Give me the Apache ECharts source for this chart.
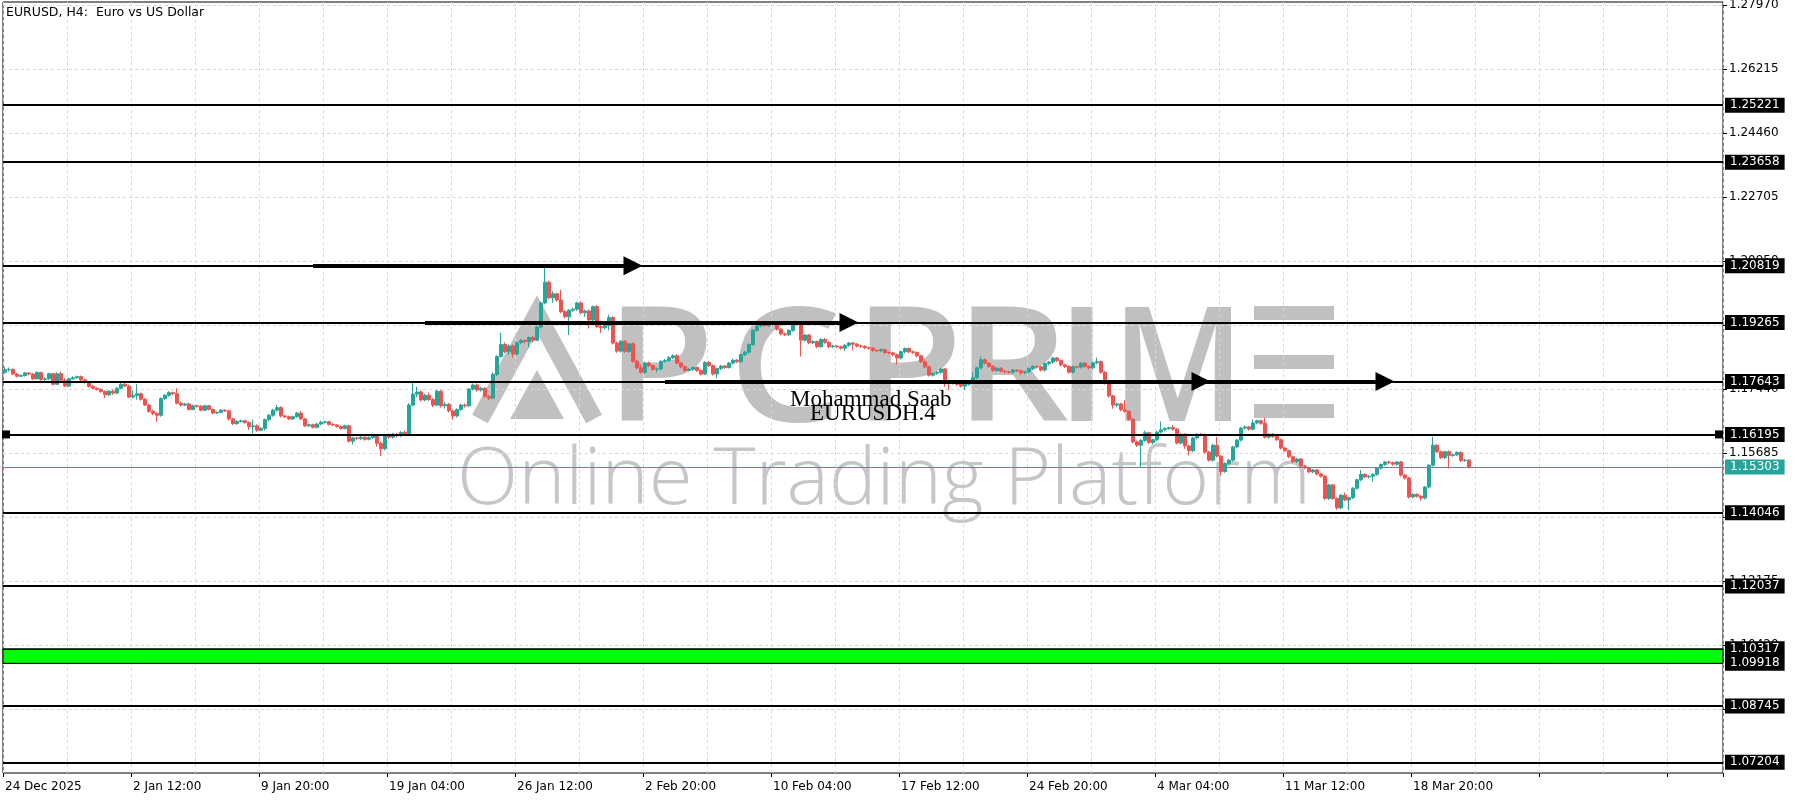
<!DOCTYPE html>
<html><head><meta charset="utf-8">
<script src="https://cdn.jsdelivr.net/npm/echarts@6/dist/echarts.min.js"></script>
<style>html,body{margin:0;padding:0;background:#fff}#c{width:1800px;height:800px}</style>
</head><body><div id="c"></div>
<script>
// ---------- data ----------
const chartTitle = 'EURUSD, H4:  Euro vs US Dollar';
const dateLabels = ['24 Dec 2025','2 Jan 12:00','9 Jan 20:00','19 Jan 04:00','26 Jan 12:00','2 Feb 20:00','10 Feb 04:00','17 Feb 12:00','24 Feb 20:00','4 Mar 04:00','11 Mar 12:00','18 Mar 20:00'];
const labelStep = 32;     // bars between date labels
const gridStep = 16;      // bars between vertical grid lines
const totalSlots = 430;   // bar slots across the chart (incl. right shift)
const priceTicks = [1.27970,1.26215,1.24460,1.22705,1.20950,1.19195,1.17440,1.15685,1.13930,1.12175,1.10420,1.08665];
const levels = [1.25221,1.23658,1.20819,1.19265,1.17643,1.16195,1.14046,1.12037,1.08745,1.07204];
const zone = [1.10317,1.09918];
const lastPrice = 1.15303;
const handleLevel = 1.16195;
// arrows: [startBar, endBar, price]
const arrows = [[77,157,1.20819],[105,211,1.19265],[165,299,1.17643],[214,345,1.17643]];
const yMin = 1.06911, yMax = 1.28052;
// candles: [open, close, low, high]
const ohlc = [
[1.1790,1.1797,1.1786,1.1805],[1.1797,1.1798,1.1792,1.1803],[1.1798,1.1785,1.1782,1.1800],[1.1785,1.1779,1.1776,1.1788],
[1.1779,1.1781,1.1776,1.1784],[1.1781,1.1788,1.1778,1.1791],[1.1788,1.1785,1.1782,1.1790],[1.1785,1.1772,1.1769,1.1788],
[1.1772,1.1789,1.1770,1.1793],[1.1789,1.1770,1.1767,1.1791],[1.1770,1.1772,1.1766,1.1776],[1.1772,1.1786,1.1769,1.1789],
[1.1786,1.1757,1.1754,1.1788],[1.1757,1.1786,1.1755,1.1790],[1.1786,1.1768,1.1764,1.1791],[1.1768,1.1752,1.1749,1.1774],
[1.1752,1.1772,1.1750,1.1775],[1.1772,1.1775,1.1769,1.1779],[1.1775,1.1778,1.1772,1.1781],[1.1778,1.1769,1.1766,1.1781],
[1.1769,1.1762,1.1759,1.1772],[1.1762,1.1751,1.1748,1.1765],[1.1751,1.1746,1.1743,1.1755],[1.1746,1.1743,1.1740,1.1749],
[1.1743,1.1737,1.1734,1.1746],[1.1737,1.1728,1.1719,1.1740],[1.1728,1.1738,1.1725,1.1741],[1.1738,1.1733,1.1728,1.1743],
[1.1733,1.1746,1.1730,1.1749],[1.1746,1.1757,1.1743,1.1762],[1.1757,1.1752,1.1749,1.1762],[1.1752,1.1722,1.1719,1.1756],
[1.1722,1.1726,1.1718,1.1741],[1.1726,1.1731,1.1715,1.1757],[1.1731,1.1716,1.1712,1.1734],[1.1716,1.1700,1.1697,1.1719],
[1.1700,1.1683,1.1679,1.1703],[1.1683,1.1677,1.1672,1.1687],[1.1677,1.1672,1.1654,1.1680],[1.1672,1.1718,1.1668,1.1721],
[1.1718,1.1727,1.1714,1.1730],[1.1727,1.1734,1.1723,1.1738],[1.1734,1.1731,1.1727,1.1737],[1.1731,1.1705,1.1702,1.1746],
[1.1705,1.1700,1.1696,1.1709],[1.1700,1.1703,1.1697,1.1706],[1.1703,1.1688,1.1685,1.1706],[1.1688,1.1698,1.1686,1.1701],
[1.1698,1.1697,1.1693,1.1701],[1.1697,1.1686,1.1683,1.1700],[1.1686,1.1698,1.1684,1.1701],[1.1698,1.1688,1.1685,1.1700],
[1.1688,1.1678,1.1675,1.1690],[1.1678,1.1680,1.1676,1.1683],[1.1680,1.1686,1.1677,1.1689],[1.1686,1.1684,1.1681,1.1688],
[1.1684,1.1662,1.1658,1.1687],[1.1662,1.1649,1.1645,1.1665],[1.1649,1.1655,1.1646,1.1659],[1.1655,1.1657,1.1652,1.1660],
[1.1657,1.1652,1.1649,1.1660],[1.1652,1.1641,1.1632,1.1655],[1.1641,1.1643,1.1622,1.1660],[1.1643,1.1631,1.1627,1.1647],
[1.1631,1.1636,1.1628,1.1639],[1.1636,1.1660,1.1630,1.1663],[1.1660,1.1672,1.1656,1.1676],[1.1672,1.1686,1.1668,1.1690],
[1.1686,1.1693,1.1682,1.1701],[1.1693,1.1670,1.1666,1.1697],[1.1670,1.1668,1.1664,1.1673],[1.1668,1.1662,1.1659,1.1671],
[1.1662,1.1668,1.1659,1.1671],[1.1668,1.1678,1.1665,1.1681],[1.1678,1.1662,1.1659,1.1684],[1.1662,1.1643,1.1640,1.1665],
[1.1643,1.1646,1.1640,1.1649],[1.1646,1.1639,1.1636,1.1649],[1.1639,1.1648,1.1636,1.1651],[1.1648,1.1653,1.1645,1.1657],
[1.1653,1.1654,1.1649,1.1657],[1.1654,1.1647,1.1644,1.1657],[1.1647,1.1645,1.1642,1.1650],[1.1645,1.1641,1.1638,1.1648],
[1.1641,1.1636,1.1633,1.1644],[1.1636,1.1643,1.1633,1.1646],[1.1643,1.1601,1.1597,1.1646],[1.1601,1.1610,1.1592,1.1613],
[1.1610,1.1608,1.1604,1.1613],[1.1608,1.1612,1.1604,1.1615],[1.1612,1.1606,1.1602,1.1615],[1.1606,1.1611,1.1603,1.1614],
[1.1611,1.1616,1.1607,1.1619],[1.1616,1.1595,1.1586,1.1619],[1.1595,1.1580,1.1560,1.1600],[1.1580,1.1618,1.1576,1.1621],
[1.1618,1.1612,1.1607,1.1622],[1.1612,1.1620,1.1608,1.1624],[1.1620,1.1616,1.1611,1.1624],[1.1616,1.1625,1.1612,1.1628],
[1.1625,1.1622,1.1617,1.1630],[1.1622,1.1700,1.1619,1.1705],[1.1700,1.1730,1.1696,1.1764],[1.1730,1.1736,1.1722,1.1750],
[1.1736,1.1714,1.1710,1.1740],[1.1714,1.1727,1.1710,1.1731],[1.1727,1.1715,1.1711,1.1734],[1.1715,1.1700,1.1694,1.1719],
[1.1700,1.1738,1.1697,1.1742],[1.1738,1.1698,1.1693,1.1742],[1.1698,1.1702,1.1690,1.1708],[1.1702,1.1684,1.1680,1.1706],
[1.1684,1.1670,1.1660,1.1688],[1.1670,1.1688,1.1666,1.1691],[1.1688,1.1700,1.1684,1.1704],[1.1700,1.1698,1.1693,1.1704],
[1.1698,1.1744,1.1695,1.1747],[1.1744,1.1755,1.1740,1.1759],[1.1755,1.1741,1.1737,1.1759],[1.1741,1.1746,1.1737,1.1750],
[1.1746,1.1724,1.1720,1.1749],[1.1724,1.1719,1.1714,1.1728],[1.1719,1.1784,1.1716,1.1790],[1.1784,1.1833,1.1780,1.1836],
[1.1833,1.1866,1.1830,1.1898],[1.1866,1.1846,1.1842,1.1872],[1.1846,1.1862,1.1838,1.1866],[1.1862,1.1840,1.1830,1.1866],
[1.1840,1.1871,1.1836,1.1874],[1.1871,1.1877,1.1867,1.1881],[1.1877,1.1874,1.1869,1.1880],[1.1874,1.1885,1.1858,1.1888],
[1.1885,1.1878,1.1872,1.1890],[1.1878,1.1914,1.1875,1.1917],[1.1914,1.1980,1.1910,1.1984],[1.1980,1.2037,1.1976,1.2076],
[1.2037,1.1994,1.1990,1.2041],[1.1994,1.2005,1.1980,1.2012],[1.2005,1.1988,1.1984,1.2008],[1.1988,1.1956,1.1952,1.2016],
[1.1956,1.1942,1.1938,1.1960],[1.1942,1.1960,1.1892,1.1963],[1.1960,1.1963,1.1956,1.1967],[1.1963,1.1980,1.1958,1.1983],
[1.1980,1.1953,1.1949,1.1985],[1.1953,1.1958,1.1942,1.1962],[1.1958,1.1933,1.1910,1.1962],[1.1933,1.1970,1.1930,1.1973],
[1.1970,1.1915,1.1911,1.1974],[1.1915,1.1912,1.1898,1.1922],[1.1912,1.1918,1.1908,1.1921],[1.1918,1.1940,1.1905,1.1948],
[1.1940,1.1870,1.1866,1.1944],[1.1870,1.1848,1.1843,1.1874],[1.1848,1.1875,1.1844,1.1878],[1.1875,1.1847,1.1843,1.1878],
[1.1847,1.1868,1.1843,1.1871],[1.1868,1.1820,1.1816,1.1872],[1.1820,1.1802,1.1798,1.1824],[1.1802,1.1790,1.1786,1.1811],
[1.1790,1.1815,1.1785,1.1819],[1.1815,1.1808,1.1804,1.1819],[1.1808,1.1798,1.1794,1.1811],[1.1798,1.1799,1.1790,1.1803],
[1.1799,1.1820,1.1796,1.1823],[1.1820,1.1822,1.1816,1.1826],[1.1822,1.1830,1.1818,1.1834],[1.1830,1.1835,1.1826,1.1839],
[1.1835,1.1815,1.1812,1.1840],[1.1815,1.1805,1.1801,1.1819],[1.1805,1.1795,1.1791,1.1809],[1.1795,1.1798,1.1792,1.1801],
[1.1798,1.1803,1.1794,1.1806],[1.1803,1.1795,1.1791,1.1806],[1.1795,1.1785,1.1781,1.1798],[1.1785,1.1817,1.1782,1.1820],
[1.1817,1.1808,1.1804,1.1821],[1.1808,1.1785,1.1781,1.1811],[1.1785,1.1800,1.1773,1.1803],[1.1800,1.1807,1.1796,1.1810],
[1.1807,1.1803,1.1799,1.1810],[1.1803,1.1815,1.1800,1.1818],[1.1815,1.1823,1.1811,1.1827],[1.1823,1.1819,1.1815,1.1826],
[1.1819,1.1838,1.1816,1.1841],[1.1838,1.1845,1.1834,1.1849],[1.1845,1.1866,1.1841,1.1869],[1.1866,1.1905,1.1862,1.1908],
[1.1905,1.1917,1.1901,1.1921],[1.1917,1.1921,1.1913,1.1925],[1.1921,1.1918,1.1914,1.1924],[1.1918,1.1924,1.1914,1.1927],
[1.1924,1.1921,1.1917,1.1926],[1.1921,1.1908,1.1904,1.1924],[1.1908,1.1895,1.1891,1.1911],[1.1895,1.1893,1.1889,1.1899],
[1.1893,1.1905,1.1889,1.1908],[1.1905,1.1925,1.1901,1.1929],[1.1925,1.1922,1.1918,1.1928],[1.1922,1.1878,1.1833,1.1925],
[1.1878,1.1892,1.1874,1.1895],[1.1892,1.1871,1.1867,1.1895],[1.1871,1.1874,1.1867,1.1878],[1.1874,1.1860,1.1856,1.1877],
[1.1860,1.1880,1.1857,1.1883],[1.1880,1.1872,1.1868,1.1884],[1.1872,1.1860,1.1856,1.1875],[1.1860,1.1862,1.1856,1.1865],
[1.1862,1.1860,1.1856,1.1864],[1.1860,1.1856,1.1852,1.1863],[1.1856,1.1864,1.1848,1.1867],[1.1864,1.1870,1.1860,1.1873],
[1.1870,1.1867,1.1850,1.1873],[1.1867,1.1862,1.1858,1.1870],[1.1862,1.1861,1.1857,1.1865],[1.1861,1.1857,1.1853,1.1864],
[1.1857,1.1856,1.1852,1.1860],[1.1856,1.1850,1.1846,1.1859],[1.1850,1.1849,1.1845,1.1853],[1.1849,1.1852,1.1845,1.1855],
[1.1852,1.1844,1.1840,1.1855],[1.1844,1.1843,1.1839,1.1847],[1.1843,1.1838,1.1834,1.1846],[1.1838,1.1829,1.1812,1.1841],
[1.1829,1.1846,1.1825,1.1849],[1.1846,1.1855,1.1842,1.1858],[1.1855,1.1846,1.1842,1.1858],[1.1846,1.1844,1.1840,1.1849],
[1.1844,1.1835,1.1831,1.1847],[1.1835,1.1819,1.1815,1.1838],[1.1819,1.1805,1.1801,1.1822],[1.1805,1.1782,1.1778,1.1808],
[1.1782,1.1787,1.1778,1.1790],[1.1787,1.1790,1.1783,1.1793],[1.1790,1.1799,1.1786,1.1802],[1.1799,1.1764,1.1750,1.1802],
[1.1764,1.1760,1.1741,1.1767],[1.1760,1.1762,1.1756,1.1765],[1.1762,1.1757,1.1753,1.1765],[1.1757,1.1752,1.1748,1.1760],
[1.1752,1.1757,1.1741,1.1760],[1.1757,1.1765,1.1753,1.1768],[1.1765,1.1775,1.1761,1.1790],[1.1775,1.1802,1.1771,1.1805],
[1.1802,1.1824,1.1798,1.1833],[1.1824,1.1815,1.1811,1.1828],[1.1815,1.1806,1.1802,1.1818],[1.1806,1.1795,1.1791,1.1809],
[1.1795,1.1801,1.1791,1.1804],[1.1801,1.1793,1.1789,1.1804],[1.1793,1.1791,1.1787,1.1796],[1.1791,1.1790,1.1786,1.1794],
[1.1790,1.1796,1.1786,1.1799],[1.1796,1.1794,1.1790,1.1798],[1.1794,1.1789,1.1782,1.1797],[1.1789,1.1791,1.1785,1.1794],
[1.1791,1.1800,1.1787,1.1803],[1.1800,1.1806,1.1796,1.1809],[1.1806,1.1805,1.1801,1.1809],[1.1805,1.1796,1.1792,1.1808],
[1.1796,1.1814,1.1792,1.1817],[1.1814,1.1818,1.1810,1.1821],[1.1818,1.1829,1.1814,1.1832],[1.1829,1.1822,1.1818,1.1832],
[1.1822,1.1810,1.1806,1.1825],[1.1810,1.1806,1.1802,1.1813],[1.1806,1.1790,1.1786,1.1809],[1.1790,1.1805,1.1786,1.1808],
[1.1805,1.1804,1.1800,1.1808],[1.1804,1.1815,1.1800,1.1818],[1.1815,1.1806,1.1802,1.1818],[1.1806,1.1802,1.1798,1.1809],
[1.1802,1.1816,1.1798,1.1819],[1.1816,1.1819,1.1812,1.1830],[1.1819,1.1790,1.1786,1.1822],[1.1790,1.1760,1.1756,1.1793],
[1.1760,1.1725,1.1721,1.1763],[1.1725,1.1700,1.1690,1.1728],[1.1700,1.1703,1.1695,1.1707],[1.1703,1.1687,1.1683,1.1706],
[1.1687,1.1683,1.1679,1.1714],[1.1683,1.1661,1.1657,1.1686],[1.1661,1.1599,1.1595,1.1664],[1.1599,1.1590,1.1585,1.1603],
[1.1590,1.1603,1.1530,1.1606],[1.1603,1.1624,1.1599,1.1630],[1.1624,1.1597,1.1593,1.1627],[1.1597,1.1605,1.1593,1.1608],
[1.1605,1.1626,1.1601,1.1629],[1.1626,1.1632,1.1622,1.1655],[1.1632,1.1636,1.1628,1.1639],[1.1636,1.1638,1.1632,1.1641],
[1.1638,1.1634,1.1630,1.1645],[1.1634,1.1596,1.1592,1.1637],[1.1596,1.1620,1.1592,1.1623],[1.1620,1.1588,1.1580,1.1623],
[1.1588,1.1575,1.1562,1.1591],[1.1575,1.1610,1.1571,1.1613],[1.1610,1.1620,1.1606,1.1623],[1.1620,1.1619,1.1615,1.1623],
[1.1619,1.1571,1.1567,1.1622],[1.1571,1.1549,1.1545,1.1574],[1.1549,1.1590,1.1545,1.1593],[1.1590,1.1560,1.1556,1.1613],
[1.1560,1.1518,1.1508,1.1563],[1.1518,1.1540,1.1514,1.1543],[1.1540,1.1549,1.1536,1.1552],[1.1549,1.1585,1.1545,1.1588],
[1.1585,1.1604,1.1581,1.1607],[1.1604,1.1637,1.1600,1.1640],[1.1637,1.1640,1.1633,1.1644],[1.1640,1.1634,1.1630,1.1643],
[1.1634,1.1651,1.1630,1.1660],[1.1651,1.1657,1.1647,1.1660],[1.1657,1.1650,1.1646,1.1660],[1.1650,1.1612,1.1608,1.1666],
[1.1612,1.1620,1.1608,1.1623],[1.1620,1.1614,1.1610,1.1623],[1.1614,1.1605,1.1601,1.1617],[1.1605,1.1582,1.1578,1.1608],
[1.1582,1.1575,1.1571,1.1585],[1.1575,1.1558,1.1554,1.1578],[1.1558,1.1545,1.1541,1.1561],[1.1545,1.1552,1.1541,1.1555],
[1.1552,1.1533,1.1529,1.1555],[1.1533,1.1528,1.1524,1.1536],[1.1528,1.1517,1.1513,1.1531],[1.1517,1.1522,1.1513,1.1525],
[1.1522,1.1511,1.1507,1.1525],[1.1511,1.1505,1.1501,1.1514],[1.1505,1.1444,1.1440,1.1508],[1.1444,1.1481,1.1440,1.1484],
[1.1481,1.1444,1.1440,1.1484],[1.1444,1.1418,1.1413,1.1447],[1.1418,1.1453,1.1414,1.1456],[1.1453,1.1440,1.1436,1.1460],
[1.1440,1.1446,1.1412,1.1449],[1.1446,1.1472,1.1442,1.1475],[1.1472,1.1495,1.1468,1.1498],[1.1495,1.1510,1.1491,1.1522],
[1.1510,1.1503,1.1499,1.1513],[1.1503,1.1505,1.1499,1.1508],[1.1505,1.1510,1.1490,1.1513],[1.1510,1.1527,1.1506,1.1530],
[1.1527,1.1537,1.1523,1.1540],[1.1537,1.1544,1.1533,1.1547],[1.1544,1.1542,1.1538,1.1547],[1.1542,1.1538,1.1534,1.1545],
[1.1538,1.1544,1.1534,1.1547],[1.1544,1.1508,1.1504,1.1547],[1.1508,1.1500,1.1496,1.1511],[1.1500,1.1448,1.1444,1.1503],
[1.1448,1.1455,1.1444,1.1458],[1.1455,1.1450,1.1446,1.1458],[1.1450,1.1445,1.1438,1.1453],[1.1445,1.1475,1.1441,1.1478],
[1.1475,1.1535,1.1471,1.1538],[1.1535,1.1590,1.1531,1.1613],[1.1590,1.1572,1.1568,1.1593],[1.1572,1.1556,1.1552,1.1575],
[1.1556,1.1572,1.1552,1.1575],[1.1572,1.1562,1.1526,1.1575],[1.1562,1.1564,1.1558,1.1567],[1.1564,1.1570,1.1560,1.1573],
[1.1570,1.1548,1.1544,1.1573],[1.1548,1.1549,1.1544,1.1553],[1.1549,1.15303,1.1526,1.1552]
];
// watermark
const logoLetters = ['P','C','P','R','I','M'];
const logoCenters = [660,785,908,1012,1082,1178];
const logoScale = [1.12,1.12,1.12,1.12,1.12,0.9];
const tagline = 'Online Trading Platform';
const authorText = 'Mohammad Saab';
const symbolText = 'EURUSDH.4';

// ---------- chart ----------
const FONT = '"DejaVu Sans", Verdana, sans-serif';
const BULL = '#26a69a', BEAR = '#ef5350';
const WM = '#c0c0c0';
const categories = [];
for (let i = 0; i < totalSlots; i++) {
  const k = i / labelStep;
  categories.push(i % labelStep === 0 && k < dateLabels.length ? dateLabels[k] : '');
}
const fmt = v => Number(v).toFixed(5);
const chart = echarts.init(document.getElementById('c'), null, {renderer: 'canvas', width: 1800, height: 800});

const graphics = [];
// stylised "A" (no crossbar, inner triangle)
graphics.push({type: 'polyline', z: 0, silent: true,
  shape: {points: [[480, 419], [537, 314], [594, 419]]},
  style: {stroke: WM, lineWidth: 18, lineJoin: 'miter', fill: null}});
graphics.push({type: 'polygon', z: 0, silent: true,
  shape: {points: [[510, 419], [537, 370], [564, 419]]}, style: {fill: WM}});
logoLetters.forEach((ch, i) => {
  graphics.push({type: 'text', z: 0, x: logoCenters[i], y: 375, scaleX: logoScale[i], silent: true,
    style: {text: ch, fill: WM, font: '600 160px "Open Sans", sans-serif', align: 'center', verticalAlign: 'middle'}});
});
// stylised "E" (three bars)
[306, 355, 404].forEach(y => graphics.push({type: 'rect', z: 0, silent: true,
  shape: {x: 1254, y: y, width: 80, height: 14}, style: {fill: WM}}));
graphics.push({type: 'text', z: 0, x: 884, y: 481, silent: true,
  style: {text: tagline, fill: '#c6c6c6', font: '300 80px "Open Sans", sans-serif', align: 'center', verticalAlign: 'middle'}});
graphics.push({type: 'text', z: 50, x: 6, y: 13, silent: true,
  style: {text: chartTitle, fill: '#000', font: '12.5px ' + FONT, align: 'left', verticalAlign: 'middle'}});
graphics.push({type: 'text', z: 50, x: 790, y: 400, silent: true,
  style: {text: authorText, fill: '#000', font: '23px "Liberation Serif", "Times New Roman", serif', align: 'left', verticalAlign: 'middle'}});
graphics.push({type: 'text', z: 50, x: 810, y: 414, silent: true,
  style: {text: symbolText, fill: '#000', font: '23px "Liberation Serif", "Times New Roman", serif', align: 'left', verticalAlign: 'middle'}});

const option = {
  animation: false,
  backgroundColor: '#fff',
  grid: {left: 3, right: 77, top: 2, bottom: 27, show: true, borderColor: '#000', borderWidth: 1, backgroundColor: 'transparent'},
  xAxis: {
    type: 'category', data: categories, boundaryGap: true,
    axisLine: {show: false},
    axisTick: {show: true, interval: labelStep - 1, length: 4, lineStyle: {color: '#000'}},
    axisLabel: {interval: labelStep - 1, align: 'left', color: '#000', fontFamily: FONT, fontSize: 12, margin: 8},
    splitLine: {show: true, interval: gridStep - 1, lineStyle: {color: '#d9d9d9', type: [3, 3], width: 1}}
  },
  yAxis: {
    type: 'value', position: 'right', min: yMin, max: yMax, scale: true,
    axisLine: {show: false}, axisLabel: {show: false}, splitLine: {show: false},
    axisTick: {show: true, customValues: priceTicks, length: 4, inside: false, lineStyle: {color: '#000'}}
  },
  graphic: graphics,
  series: [
    { // horizontal grid + plain price labels
      type: 'line', data: [], silent: true,
      markLine: {
        z: 1, silent: true, precision: 5, symbol: ['none', 'none'], animation: false,
        lineStyle: {color: '#d9d9d9', type: [3, 3], width: 1},
        label: {show: true, position: 'end', distance: 6, formatter: p => fmt(p.value), color: '#000', fontFamily: FONT, fontSize: 12},
        emphasis: {disabled: true},
        data: priceTicks.map(v => ({yAxis: v}))
      }
    },
    {
      type: 'candlestick', data: ohlc, barWidth: 3, z: 2,
      itemStyle: {color: BULL, color0: BEAR, borderColor: BULL, borderColor0: BEAR, borderWidth: 1}
    },
    { // current price
      type: 'line', data: [], silent: true,
      markLine: {
        z: 4, silent: true, precision: 5, symbol: ['none', 'none'], animation: false,
        lineStyle: {color: BULL, type: 'solid', width: 1},
        label: {show: true, position: 'end', distance: 2, formatter: p => fmt(p.value), color: '#fff', backgroundColor: BULL, padding: [2, 5, 1, 5], fontFamily: FONT, fontSize: 12},
        emphasis: {disabled: true},
        data: [{yAxis: lastPrice}]
      }
    },
    { // levels & zone
      type: 'line', data: [], silent: true,
      markArea: {
        z: 3, silent: true, precision: 5,
        itemStyle: {color: '#00ff00', borderColor: '#000', borderWidth: 1},
        data: [[{yAxis: zone[0]}, {yAxis: zone[1]}]]
      },
      markLine: {
        z: 5, silent: true, precision: 5, symbol: ['none', 'none'], animation: false,
        lineStyle: {color: '#000', type: 'solid', width: 2},
        label: {show: true, position: 'end', distance: 2, formatter: p => fmt(p.value), color: '#fff', backgroundColor: '#000', padding: [2, 5, 1, 5], fontFamily: FONT, fontSize: 12},
        emphasis: {disabled: true},
        data: levels.map(v => ({yAxis: v})).concat(zone.map(v => ({yAxis: v, lineStyle: {width: 1}})))
      }
    },
    { // arrows
      type: 'line', data: [], silent: true,
      markLine: {
        z: 6, silent: true, precision: 5, symbol: ['none', 'triangle'], symbolSize: 19, animation: false,
        lineStyle: {color: '#000', type: 'solid', width: 4},
        itemStyle: {color: '#000'},
        label: {show: false},
        emphasis: {disabled: true},
        data: arrows.map(a => [{coord: [a[0], a[2]]}, {coord: [a[1], a[2]]}])
      }
    }
  ]
};
chart.setOption(option);

// small selection handles on one level line
const hy = chart.convertToPixel({yAxisIndex: 0}, handleLevel);
const gridRect = chart.getModel().getComponent('grid', 0).coordinateSystem.getRect();
chart.setOption({graphic: graphics.concat([
  {type: 'rect', z: 60, silent: true, shape: {x: gridRect.x - 1, y: hy - 4, width: 8, height: 8}, style: {fill: '#000'}},
  {type: 'rect', z: 60, silent: true, shape: {x: gridRect.x + gridRect.width - 8, y: hy - 4, width: 8, height: 8}, style: {fill: '#000'}}
])});
</script>
</body></html>
